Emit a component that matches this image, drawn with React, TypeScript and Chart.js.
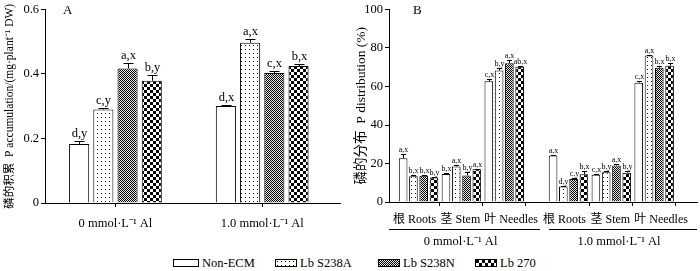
import React, { useEffect, useMemo, useRef } from 'react';
import { Chart, registerables } from 'chart.js';
Chart.register(...registerables);

const FONT = "'Liberation Serif', 'Times New Roman', 'Noto Sans CJK SC', serif";

const treatments = ['Non-ECM', 'Lb S238A', 'Lb S238N', 'Lb 270'];
const alLevels = ['0 mmol·L⁻¹ Al', '1.0 mmol·L⁻¹ Al'];
const organs = ['根 Roots', '茎 Stem', '叶 Needles'];

// Panel A: P accumulation (mg·plant⁻¹ DW), order: 0 Al, 1.0 Al
const accNonECM = [0.183, 0.301];
const accS238A = [0.29, 0.497];
const accS238N = [0.417, 0.403];
const accLb270 = [0.379, 0.425];
const accErrNonECM = [0.01, 0.003];
const accErrS238A = [0.006, 0.011];
const accErrS238N = [0.017, 0.007];
const accErrLb270 = [0.018, 0.005];
const accSigNonECM = ['d,y', 'd,x'];
const accSigS238A = ['c,y', 'a,x'];
const accSigS238N = ['a,x', 'c,x'];
const accSigLb270 = ['b,y', 'b,x'];
const yTicksA = [0, 0.2, 0.4, 0.6];
const yTickLabelsA = ['0', '0.2', '0.4', '0.6'];

// Panel B: P distribution (%), order: Roots, Stem, Needles at 0 Al, then at 1.0 Al
const distNonECM = [22.7, 14.6, 62.7, 24.2, 14.1, 62.0];
const distS238A = [13.4, 18.5, 68.3, 8.0, 15.5, 76.1];
const distS238N = [13.7, 13.8, 72.1, 11.9, 19.0, 69.7];
const distLb270 = [12.7, 17.0, 70.3, 14.4, 15.2, 70.8];
const distErrNonECM = [2.1, 0.7, 1.4, 0.3, 0.4, 1.0];
const distErrS238A = [0.5, 0.8, 1.4, 0.5, 0.4, 0.3];
const distErrS238N = [0.4, 2.0, 1.7, 0.4, 0.5, 1.0];
const distErrLb270 = [0.5, 0.4, 0.5, 1.6, 0.7, 1.5];
const distSigNonECM = ['a,x', 'b,x', 'c,x', 'a,x', 'c,x', 'c,x'];
const distSigS238A = ['b,x', 'a,x', 'b,y', 'd,y', 'b,y', 'a,x'];
const distSigS238N = ['b,x', 'b,y', 'a,x', 'c,y', 'a,x', 'b,x'];
const distSigLb270 = ['b,y', 'a,x', 'ab,x', 'b,x', 'b,y', 'b,x'];
const yTicksB = [0, 20, 40, 60, 80, 100];

type Kind = 'open' | 'dots' | 'fine' | 'checker';
const kinds: Kind[] = ['open', 'dots', 'fine', 'checker'];

function makeTile(kind: Kind): HTMLCanvasElement {
  const c = document.createElement('canvas');
  const size = kind === 'checker' ? 6 : kind === 'fine' ? 2 : 4;
  c.width = size;
  c.height = size;
  const ctx = c.getContext('2d')!;
  ctx.fillStyle = '#fff';
  ctx.fillRect(0, 0, size, size);
  ctx.fillStyle = '#000';
  if (kind === 'dots') {
    ctx.fillStyle = '#111';
    ctx.fillRect(1, 1, 1, 1);
  } else if (kind === 'fine') {
    ctx.fillStyle = '#e6e6e6';
    ctx.fillRect(0, 0, 2, 2);
    ctx.fillStyle = '#000';
    ctx.fillRect(0, 0, 1, 1);
    ctx.fillRect(1, 1, 1, 1);
  } else if (kind === 'checker') {
    ctx.fillRect(0, 0, 3, 3);
    ctx.fillRect(3, 3, 3, 3);
  }
  return c;
}

function fillFor(kind: Kind, ctx: CanvasRenderingContext2D): CanvasPattern | string {
  if (kind === 'open') return '#fff';
  return ctx.createPattern(makeTile(kind), 'repeat') || '#888';
}

function errPlugin(errs: number[][], sigs: string[][], capRatio: number, fontSize: number, gap: number) {
  return {
    id: 'errsig',
    afterDatasetsDraw(chart: any) {
      const ctx = chart.ctx as CanvasRenderingContext2D;
      const yScale = chart.scales.y;
      chart.data.datasets.forEach((ds: any, di: number) => {
        const meta = chart.getDatasetMeta(di);
        meta.data.forEach((bar: any, i: number) => {
          const v = ds.data[i].y;
          const e = errs[di][i];
          const x = Math.round(bar.x) + 0.5;
          const w = bar.width;
          const yBar = yScale.getPixelForValue(v);
          const yTop = Math.round(yScale.getPixelForValue(v + e)) + 0.5;
          ctx.save();
          ctx.strokeStyle = '#000';
          ctx.lineWidth = 1;
          ctx.beginPath();
          ctx.moveTo(x, yBar);
          ctx.lineTo(x, yTop);
          ctx.moveTo(x - (w * capRatio) / 2, yTop);
          ctx.lineTo(x + (w * capRatio) / 2, yTop);
          ctx.stroke();
          ctx.fillStyle = '#000';
          ctx.font = `${fontSize}px ${FONT}`;
          ctx.textAlign = 'center';
          ctx.textBaseline = 'bottom';
          ctx.fillText(sigs[di][i], x, yTop - gap);
          ctx.restore();
        });
      });
    },
  };
}

function panelLetter(letter: string, dx: number) {
  return {
    id: 'panelLetter',
    afterDraw(chart: any) {
      const ctx = chart.ctx as CanvasRenderingContext2D;
      ctx.save();
      ctx.fillStyle = '#000';
      ctx.font = `13px ${FONT}`;
      ctx.textAlign = 'left';
      ctx.textBaseline = 'middle';
      ctx.fillText(letter, chart.chartArea.left + dx, chart.chartArea.top + 1);
      ctx.restore();
    },
  };
}

const axisCommon = {
  border: { display: true, color: '#000', width: 1 },
  grid: { display: true, drawOnChartArea: false, drawTicks: true, tickLength: 4, color: '#000', offset: false },
};

function ChartA() {
  const ref = useRef<HTMLCanvasElement>(null);
  useEffect(() => {
    const canvas = ref.current!;
    const ctx = canvas.getContext('2d')!;
    const vals = [accNonECM, accS238A, accS238N, accLb270];
    const errs = [accErrNonECM, accErrS238A, accErrS238N, accErrLb270];
    const sigs = [accSigNonECM, accSigS238A, accSigS238N, accSigLb270];
    const chart = new Chart(ctx, {
      type: 'bar',
      data: {
        datasets: vals.map((arr, di) => ({
          label: treatments[di],
          data: arr.map((y, i) => ({ x: i, y })),
          backgroundColor: fillFor(kinds[di], ctx),
          borderColor: '#000',
          borderWidth: 1,
          categoryPercentage: 0.66,
          barPercentage: 0.83,
        })),
      },
      options: {
        animation: false,
        responsive: false,
        devicePixelRatio: 1,
        layout: { padding: { left: 0, right: 10, top: 0, bottom: 0 } },
        plugins: { legend: { display: false }, tooltip: { enabled: false } },
        scales: {
          x: {
            type: 'linear',
            min: -0.48,
            max: 1.53,
            offset: false,
            ...axisCommon,
            afterBuildTicks: (s: any) => { s.ticks = alLevels.map((_, i) => ({ value: i })); },
            afterFit: (s: any) => { s.height = 47; },
            ticks: {
              color: '#000',
              font: { family: FONT, size: 12.5 },
              padding: 9,
              maxRotation: 0,
              autoSkip: false,
              callback: (v: any) => alLevels[v] ?? '',
            },
          },
          y: {
            type: 'linear',
            min: 0,
            max: 0.6,
            ...axisCommon,
            afterBuildTicks: (s: any) => { s.ticks = yTicksA.map((v) => ({ value: v })); },
            afterFit: (s: any) => { s.width = 45; },
            ticks: {
              color: '#000',
              font: { family: FONT, size: 12.5 },
              padding: 2,
              callback: (v: any) => yTickLabelsA[yTicksA.indexOf(v)] ?? String(v),
            },
            title: {
              display: true,
              text: '磷的积累  P accumulation/(mg·plant⁻¹ DW)',
              color: '#000',
              font: { family: FONT, size: 11.5 },
              padding: { top: 3, bottom: 0 },
            },
          },
        },
      } as any,
      plugins: [errPlugin(errs, sigs, 0.5, 12.5, 2), panelLetter('A', 18)],
    });
    return () => chart.destroy();
  }, []);
  return <canvas ref={ref} width={350} height={250} style={{ position: 'absolute', left: 0, top: 0 }} />;
}

function ChartB() {
  const ref = useRef<HTMLCanvasElement>(null);
  useEffect(() => {
    const canvas = ref.current!;
    const ctx = canvas.getContext('2d')!;
    const vals = [distNonECM, distS238A, distS238N, distLb270];
    const errs = [distErrNonECM, distErrS238A, distErrS238N, distErrLb270];
    const sigs = [distSigNonECM, distSigS238A, distSigS238N, distSigLb270];
    const posOf = (i: number) => Math.floor(i / organs.length) * (organs.length + 0.5) + (i % organs.length) + 0.5;
    const boundaryTicks: number[] = [];
    alLevels.forEach((_, a) => organs.forEach((_, o) => boundaryTicks.push(a * (organs.length + 0.5) + o + 1)));
    const organShift = [-4, -1, 0];

    const labelsPlugin = {
      id: 'groupLabels',
      afterDraw(chart: any) {
        const c = chart.ctx as CanvasRenderingContext2D;
        const xs = chart.scales.x;
        const area = chart.chartArea;
        c.save();
        c.fillStyle = '#000';
        c.strokeStyle = '#000';
        c.font = `12px ${FONT}`;
        c.textBaseline = 'middle';
        const yOrg = area.bottom + 18;
        alLevels.forEach((_, a) => {
          organs.forEach((name, o) => {
            const start = a * (organs.length + 0.5) + o;
            if (o === organs.length - 1) {
              c.textAlign = 'left';
              c.fillText(name, xs.getPixelForValue(start) + 1.5, yOrg);
            } else {
              c.textAlign = 'center';
              c.fillText(name, xs.getPixelForValue(start + 0.5) + organShift[o], yOrg);
            }
          });
        });
        const mid = xs.getPixelForValue(organs.length + 0.44);
        const yLine = area.bottom + 27.5;
        const spans = [
          [area.left, mid - 4.5],
          [mid + 4.5, area.right],
        ];
        c.lineWidth = 1;
        c.font = `12.5px ${FONT}`;
        spans.forEach(([l, r], a) => {
          c.beginPath();
          c.moveTo(l, yLine);
          c.lineTo(r, yLine);
          c.stroke();
          c.textAlign = 'center';
          c.fillText(alLevels[a], (l + r) / 2 - 4, area.bottom + 39.5);
        });
        c.restore();
      },
    };

    const chart = new Chart(ctx, {
      type: 'bar',
      data: {
        datasets: vals.map((arr, di) => ({
          label: treatments[di],
          data: arr.map((y, i) => ({ x: posOf(i), y })),
          backgroundColor: fillFor(kinds[di], ctx),
          borderColor: '#000',
          borderWidth: 1,
          categoryPercentage: 0.96,
          barPercentage: 0.84,
        })),
      },
      options: {
        animation: false,
        responsive: false,
        devicePixelRatio: 1,
        layout: { padding: { left: 0, right: 3, top: 0, bottom: 0 } },
        plugins: { legend: { display: false }, tooltip: { enabled: false } },
        scales: {
          x: {
            type: 'linear',
            min: -0.19,
            max: 7.0,
            offset: false,
            ...axisCommon,
            afterBuildTicks: (s: any) => { s.ticks = boundaryTicks.map((v) => ({ value: v })); },
            afterFit: (s: any) => { s.height = 48; },
            ticks: { display: true, callback: () => '', autoSkip: false, maxRotation: 0 },
          },
          y: {
            type: 'linear',
            min: 0,
            max: 100,
            ...axisCommon,
            afterBuildTicks: (s: any) => { s.ticks = yTicksB.map((v) => ({ value: v })); },
            afterFit: (s: any) => { s.width = 39; },
            ticks: {
              color: '#000',
              font: { family: FONT, size: 12.5 },
              padding: 2,
            },
            title: {
              display: true,
              text: '磷的分布  P distribution (%)',
              color: '#000',
              font: { family: FONT, size: 13.5 },
              padding: { top: 3, bottom: 0 },
            },
          },
        },
      } as any,
      plugins: [errPlugin(errs, sigs, 0.6, 8, 1), panelLetter('B', 24), labelsPlugin],
    });
    return () => chart.destroy();
  }, []);
  return <canvas ref={ref} width={350} height={250} style={{ position: 'absolute', left: 350, top: 0 }} />;
}

function Legend() {
  const urls = useMemo(() => kinds.map((k) => makeTile(k).toDataURL()), []);
  const boxLeft = [173, 275, 378, 475];
  const boxW = [26, 22, 22, 22];
  return (
    <>
      {treatments.map((t, i) => (
        <div key={t} style={{ position: 'absolute', left: boxLeft[i], top: 257, height: 12, display: 'flex', alignItems: 'center' }}>
          <div
            style={{
              width: boxW[i],
              height: 8,
              boxSizing: 'border-box',
              border: '1px solid #000',
              backgroundColor: '#fff',
              backgroundImage: `url(${urls[i]})`,
              backgroundRepeat: 'repeat',
              imageRendering: 'pixelated',
            }}
          />
          <span style={{ marginLeft: 3, font: `12.5px ${FONT}`, color: '#000', whiteSpace: 'nowrap', lineHeight: '12px' }}>{t}</span>
        </div>
      ))}
    </>
  );
}

export default function App() {
  return (
    <div style={{ position: 'absolute', left: 0, top: 0, width: 700, height: 271, background: '#fff', overflow: 'hidden' }}>
      <ChartA />
      <ChartB />
      <Legend />
    </div>
  );
}
